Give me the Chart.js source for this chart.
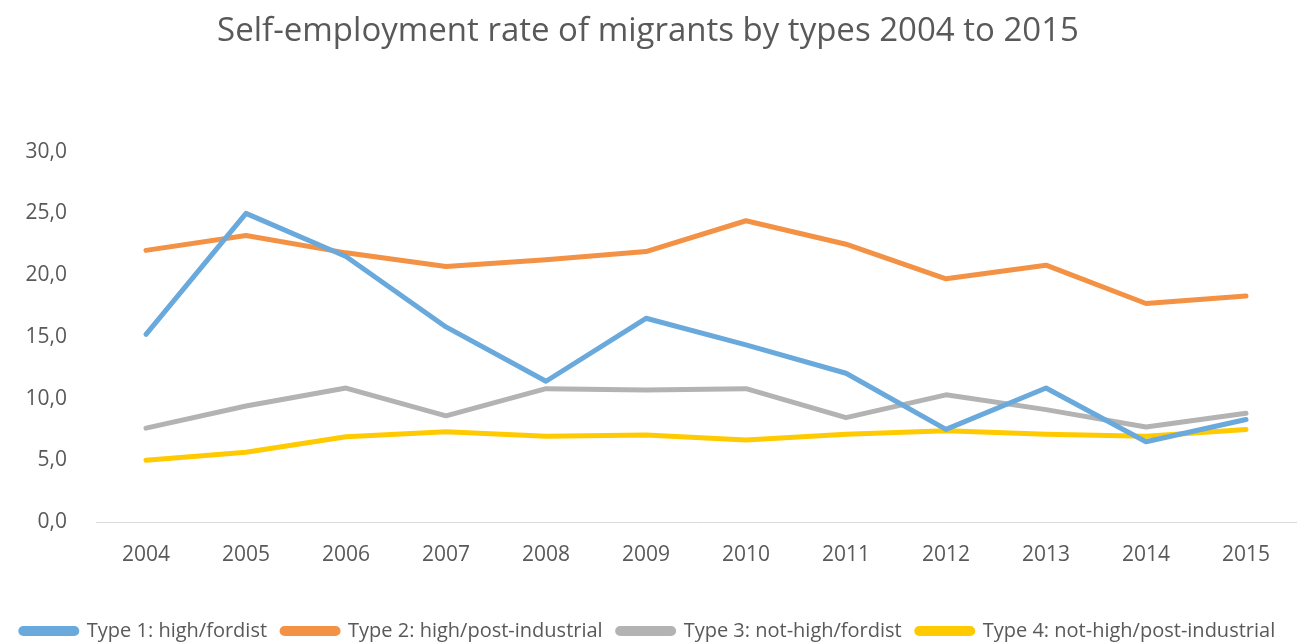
<!DOCTYPE html>
<html>
<head>
<meta charset="utf-8">
<script src="https://cdn.jsdelivr.net/npm/chart.js@4"></script>
<style>
  html, body { margin: 0; padding: 0; background: #ffffff; }
  #wrap { width: 1306px; height: 644px; }
</style>
</head>
<body>
<div id="wrap"><canvas id="context"></canvas></div>
<script>
const years = ['2004', '2005', '2006', '2007', '2008', '2009', '2010', '2011', '2012', '2013', '2014', '2015'];

const type1 = [15.2, 25.0, 21.5, 15.8, 11.4, 16.5, 14.35, 12.05, 7.5, 10.85, 6.5, 8.3];
const type2 = [22.0, 23.2, 21.8, 20.7, 21.25, 21.9, 24.4, 22.5, 19.7, 20.8, 17.7, 18.3];
const type3 = [7.6, 9.4, 10.85, 8.6, 10.8, 10.7, 10.8, 8.45, 10.3, 9.1, 7.7, 8.8];
const type4 = [5.0, 5.65, 6.9, 7.3, 6.95, 7.05, 6.65, 7.1, 7.4, 7.1, 6.95, 7.5];

const seriesNames = [
  'Type 1: high/fordist',
  'Type 2: high/post-industrial',
  'Type 3: not-high/fordist',
  'Type 4: not-high/post-industrial'
];
const seriesColours = ['#6AA9DB', '#F39244', '#B3B3B3', '#FFCA00'];

const textColour = '#595959';
const fontFamily = '"Open Sans", "Noto Sans", sans-serif';

/**
 * Builds one line dataset
 */
function makeSeries(index, values) {
  return {
    label: seriesNames[index],
    data: values,
    borderColor: seriesColours[index],
    backgroundColor: seriesColours[index],
    borderWidth: 5,
    borderCapStyle: 'round',
    borderJoinStyle: 'round',
    pointRadius: 0,
    pointHoverRadius: 0,
    tension: 0
  };
}

const ctx = document.getElementById('context');

new Chart(ctx, {
  type: 'line',
  data: {
    labels: years,
    datasets: [
      makeSeries(0, type1),
      makeSeries(1, type2),
      makeSeries(2, type3),
      makeSeries(3, type4)
    ]
  },
  options: {
    responsive: true,
    maintainAspectRatio: false,
    animation: false,
    layout: {
      padding: { left: 0, right: 10, top: 0, bottom: -7 }
    },
    plugins: {
      title: {
        display: true,
        text: 'Self-employment rate of migrants by types 2004 to 2015',
        color: textColour,
        font: { family: fontFamily, size: 33, weight: '400' },
        padding: { top: 12, bottom: 100 }
      },
      legend: {
        position: 'bottom',
        align: 'center',
        labels: {
          color: textColour,
          font: { family: fontFamily, size: 20 },
          boxWidth: 56,
          boxHeight: 5,
          useBorderRadius: true,
          borderRadius: 2.5,
          padding: 15
        }
      },
      tooltip: { enabled: false }
    },
    scales: {
      x: {
        offset: true,
        grid: { display: false },
        border: { display: true, color: '#D9D9D9', width: 1 },
        ticks: {
          color: textColour,
          font: { family: fontFamily, size: 21 },
          padding: 12
        },
        afterFit: scale => { scale.height = 84; }
      },
      y: {
        min: 0,
        max: 30,
        grid: { display: false },
        border: { display: false },
        ticks: {
          stepSize: 5,
          color: textColour,
          font: { family: fontFamily, size: 21 },
          padding: 21,
          callback: value => value.toFixed(1).replace('.', ',')
        },
        afterFit: scale => { scale.width = 96; }
      }
    }
  }
});
</script>
</body>
</html>
